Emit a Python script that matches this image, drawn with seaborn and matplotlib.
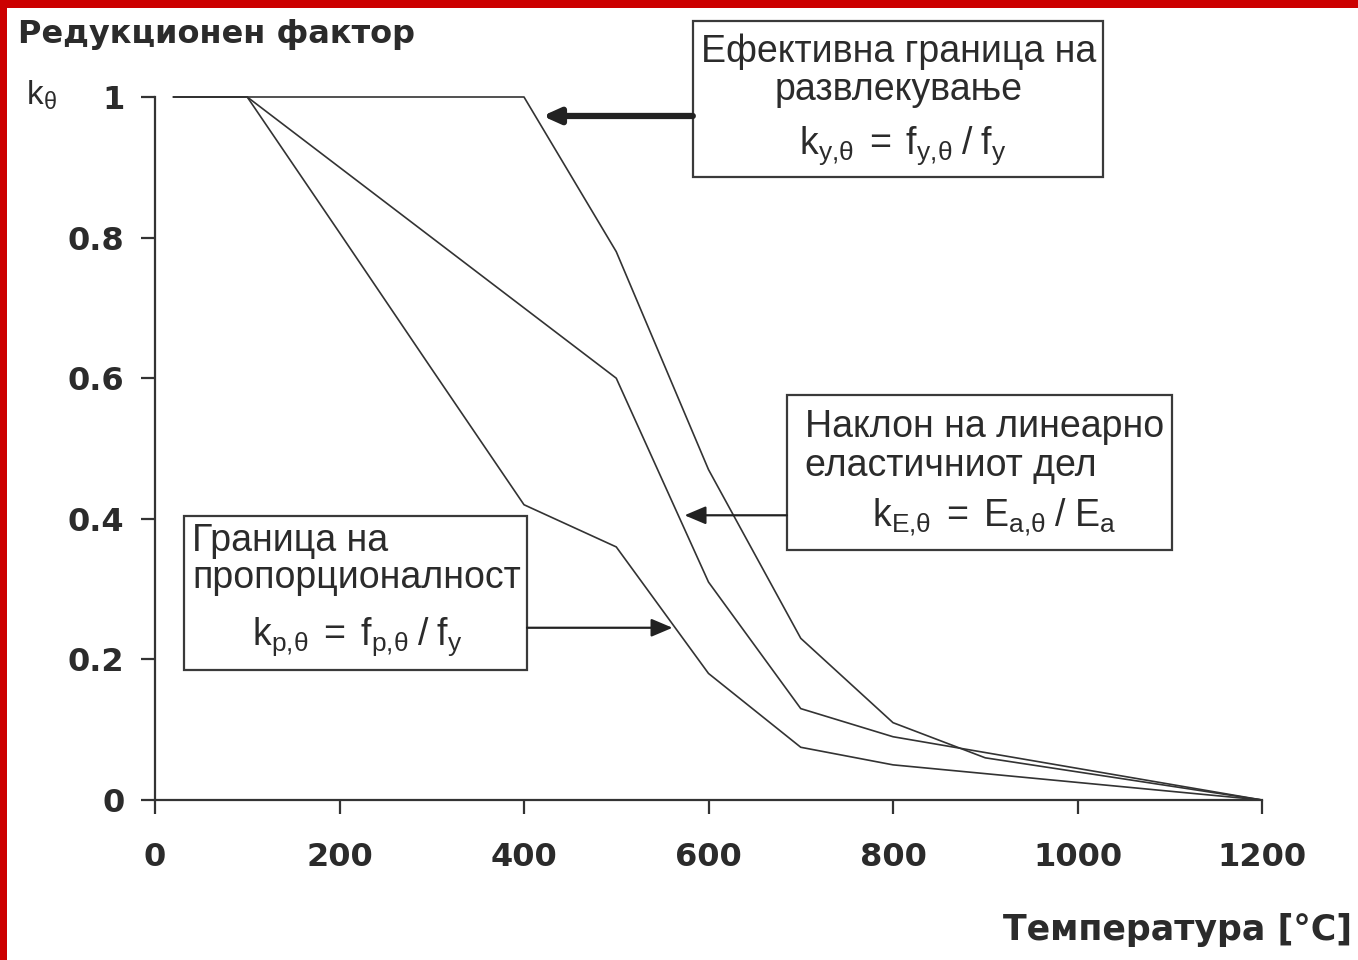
import matplotlib
matplotlib.use("Agg")
import matplotlib.pyplot as plt
from matplotlib.patches import Rectangle
import seaborn as sns
import pandas as pd

# Temperature points [°C] and reduction factors for steel at elevated temperature
temperatures = [20, 100, 200, 300, 400, 500, 600, 700, 800, 900, 1000, 1100, 1200]
k_y = [1.0, 1.0, 1.0, 1.0, 1.0, 0.78, 0.47, 0.23, 0.11, 0.06, 0.04, 0.02, 0.0]
k_E = [1.0, 1.0, 0.9, 0.8, 0.7, 0.6, 0.31, 0.13, 0.09, 0.0675, 0.045, 0.0225, 0.0]
k_p = [1.0, 1.0, 0.807, 0.613, 0.42, 0.36, 0.18, 0.075, 0.05, 0.0375, 0.025, 0.0125, 0.0]

x_ticks = [0, 200, 400, 600, 800, 1000, 1200]
y_ticks = [0, 0.2, 0.4, 0.6, 0.8, 1]
y_tick_labels = ["0", "0.2", "0.4", "0.6", "0.8", "1"]

sns.set_style("ticks")
plt.rcParams["font.family"] = ["Liberation Sans", "DejaVu Sans"]
plt.rcParams["mathtext.fontset"] = "custom"
plt.rcParams["mathtext.rm"] = "Liberation Sans"
plt.rcParams["mathtext.it"] = "Liberation Sans:italic"
plt.rcParams["mathtext.bf"] = "Liberation Sans:bold"

bold_family = ["DejaVu Sans"]
ink = "#2b2b2b"
line_col = "#333333"

fig = plt.figure(figsize=(13.58, 9.6), dpi=100)
ax = fig.add_axes([155 / 1358, 1 - 800 / 960, 1107 / 1358, 703 / 960])

df = pd.DataFrame({"T": temperatures, "ky": k_y, "kE": k_E, "kp": k_p})
for col in ["ky", "kE", "kp"]:
    sns.lineplot(data=df, x="T", y=col, ax=ax, color=line_col, lw=1.2, clip_on=False)

ax.set_xlim(0, 1200)
ax.set_ylim(0, 1)
ax.set_xticks(x_ticks)
ax.set_xticklabels([str(t) for t in x_ticks])
ax.set_yticks(y_ticks)
ax.set_yticklabels(y_tick_labels)
ax.set_xlabel("")
ax.set_ylabel("")

for side in ["top", "right"]:
    ax.spines[side].set_visible(False)
for side in ["left", "bottom"]:
    ax.spines[side].set_color(line_col)
    ax.spines[side].set_linewidth(1.6)

ax.tick_params(axis="both", direction="out", length=10, width=1.6, color=line_col,
               labelsize=23, labelcolor=ink, bottom=True, left=True)
ax.tick_params(axis="x", pad=20)
ax.tick_params(axis="y", pad=12)
for lab in ax.get_xticklabels() + ax.get_yticklabels():
    lab.set_fontweight("bold")
    lab.set_family(bold_family)

# Annotation boxes (data coordinates)
boxes = [
    (583, 0.886, 444.6, 0.222),
    (685, 0.356, 417.4, 0.220),
    (31.4, 0.185, 371.9, 0.219),
]
for x0, y0, w, h in boxes:
    ax.add_patch(Rectangle((x0, y0), w, h, fill=False, edgecolor="#3a3a3a",
                           lw=1.6, clip_on=False, zorder=3))

txt = dict(fontsize=27, color=ink, clip_on=False)

# Yield strength box
ax.text(806, 1.064, "Ефективна граница на", ha="center", va="center", **txt)
ax.text(806, 1.010, "развлекување", ha="center", va="center", **txt)
ax.text(810, 0.931, r"$\mathrm{k_{y{,}\theta}\;=\;f_{y{,}\theta}\;/\;f_{y}}$",
        ha="center", va="center", **txt)

# Elastic modulus box
ax.text(705, 0.531, "Наклон на линеарно", ha="left", va="center", **txt)
ax.text(705, 0.475, "еластичниот дел", ha="left", va="center", **txt)
ax.text(777, 0.403, r"$\mathrm{k_{E{,}\theta}\;=\;E_{a{,}\theta}\;/\;E_{a}}$",
        ha="left", va="center", **txt)

# Proportional limit box
ax.text(40, 0.368, "Граница на", ha="left", va="center", **txt)
ax.text(40, 0.316, "пропорционалност", ha="left", va="center", **txt)
ax.text(219, 0.232, r"$\mathrm{k_{p{,}\theta}\;=\;f_{p{,}\theta}\;/\;f_{y}}$",
        ha="center", va="center", **txt)

# Leader arrows from the boxes to the curves
ax.annotate("", xy=(420, 0.973), xytext=(583, 0.973),
            arrowprops=dict(arrowstyle="-|>,head_length=1.0,head_width=0.45",
                            color="#222222", lw=4.5, shrinkA=0, shrinkB=0),
            annotation_clip=False)
ax.annotate("", xy=(574, 0.405), xytext=(685, 0.405),
            arrowprops=dict(arrowstyle="-|>,head_length=1.3,head_width=0.55",
                            color="#222222", lw=1.6, shrinkA=0, shrinkB=0),
            annotation_clip=False)
ax.annotate("", xy=(561, 0.245), xytext=(403.3, 0.245),
            arrowprops=dict(arrowstyle="-|>,head_length=1.3,head_width=0.55",
                            color="#222222", lw=1.6, shrinkA=0, shrinkB=0),
            annotation_clip=False)

# Axis titles
fig.text(18 / 1358, 1 - 35 / 960, "Редукционен фактор", ha="left", va="center",
         fontsize=23, fontweight="bold", color=ink, family=bold_family)
fig.text(26 / 1358, 1 - 95 / 960, r"$\mathrm{k_{\theta}}$", ha="left", va="center",
         fontsize=24, color=ink)
fig.text(1352 / 1358, 1 - 930 / 960, "Температура [°C]", ha="right", va="center",
         fontsize=25, fontweight="bold", color=ink, family=bold_family)

# Red frame along the top and left edges
fig.patches.append(Rectangle((0, 1 - 8 / 960), 1, 8 / 960, transform=fig.transFigure,
                             facecolor="#cc0000", edgecolor="none", zorder=10))
fig.patches.append(Rectangle((0, 0), 7 / 1358, 1, transform=fig.transFigure,
                             facecolor="#cc0000", edgecolor="none", zorder=10))

fig.savefig("out.png", dpi=100, facecolor="white")
